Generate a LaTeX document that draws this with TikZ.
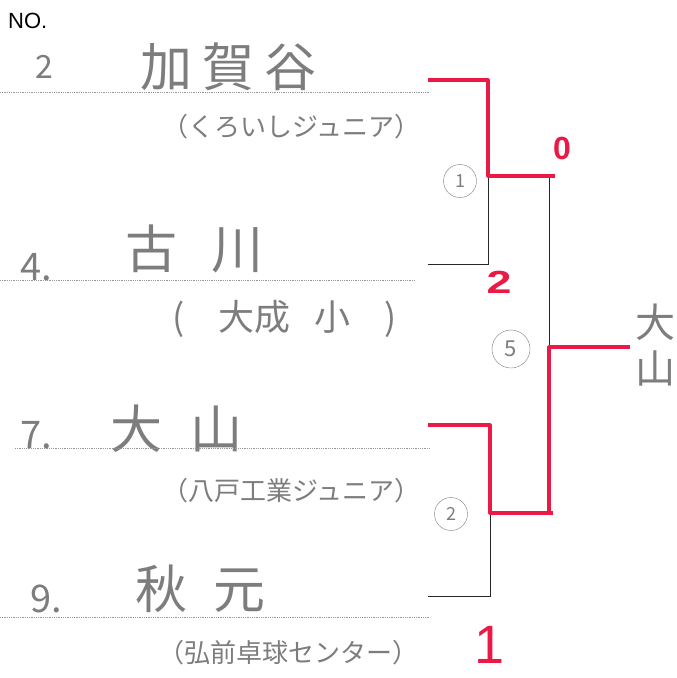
\documentclass[tikz,border=0pt]{standalone}
\usepackage{fontspec}
\newfontfamily\jp{Noto Sans CJK JP}
\newfontfamily\lat{Liberation Sans}
\definecolor{pencil}{RGB}{125,125,125}
\definecolor{marker}{RGB}{235,25,70}

\begin{document}
\begin{tikzpicture}[x=1pt, y=-1pt,
  player/.style={font=\jp\fontsize{52}{52}\selectfont, text=pencil, anchor=base west, inner sep=0},
  club/.style={font=\jp\fontsize{26}{26}\selectfont, text=pencil, anchor=base west, inner sep=0},
  seed/.style={font=\jp\fontsize{38}{38}\selectfont, text=pencil, anchor=base west, inner sep=0},
  rule/.style={pencil!80, densely dotted, line width=0.8},
  tree/.style={black!85, line width=0.9},
  win/.style={marker, line width=3.2, line join=round},
  score/.style={font=\lat\bfseries\fontsize{32}{32}\selectfont, text=marker, inner sep=0},
  game/.style={circle, draw=pencil, text=pencil, thin, inner sep=1pt, minimum size=#1, font=\jp\fontsize{18}{18}\selectfont}]
\useasboundingbox (0,0) rectangle (677,678);

\node[font=\lat\fontsize{22}{22}\selectfont, anchor=base west, inner sep=0] (no) at (8,28) {NO.};

% entries
\node[seed, font=\jp\fontsize{32}{32}\selectfont] (s2) at (35,78) {2};
\node[player] (p2) at (140,86) {加\hspace{10pt}賀\hspace{10pt}谷};
\node[club] (c2) at (162,136) {（くろいしジュニア）};
\draw[rule] (0,92) -- (430,92);

\node[seed] (s4) at (20,280) {4.};
\node[player] (p4) at (125,268) {古\hspace{34pt}川};
\node[club, font=\jp\fontsize{36}{36}\selectfont] (c4) at (172,330) {(\hspace{34pt}大成\hspace{24pt}小\hspace{34pt})};
\draw[rule] (0,280) -- (415,280);

\node[seed] (s7) at (20,448) {7.};
\node[player] (p7) at (110,448) {大\hspace{28pt}山};
\node[club] (c7) at (162,500) {（八戸工業ジュニア）};
\draw[rule] (15,448) -- (430,448);

\node[seed] (s9) at (30,612) {9.};
\node[player] (p9) at (135,608) {秋\hspace{26pt}元};
\node[club] (c9) at (158,662) {（弘前卓球センター）};
\draw[rule] (0,617) -- (430,617);

% bracket
\coordinate (e2) at (428,80);
\coordinate (e4) at (428,264);
\coordinate (e7) at (428,425);
\coordinate (e9) at (428,596);
\coordinate (m1) at (488,176);
\coordinate (m2) at (490,513);
\coordinate (f1) at (549,176);
\coordinate (f2) at (549,513);
\coordinate (m5) at (549,345);
\coordinate (top) at (610,345);
\coordinate (won) at (630,347);

\draw[tree] (e2) -| (m1) (e4) -| (m1) (m1) -- (f1) -- (f2);
\draw[tree] (e7) -| (m2) (e9) -| (m2) (m2) -- (f2);
\draw[tree] (m5) -- (top);

\draw[win] (e2) -| (m1) -- ([xshift=6pt]f1);
\draw[win] (e7) -| (m2) -- ([xshift=4pt]f2);
\draw[win] ([yshift=1.5pt]f2) |- (won);

\node[game=33pt] (g1) at (460,181) {1};
\node[game=33pt] (g2) at (451,514) {2};
\node[game=38pt, font=\jp\fontsize{22}{22}\selectfont] (g5) at (511,349) {5};

\node[score] (r2) at (562,148) {0};
\node[score, xscale=1.4] (r4) at (499,282) {2};
\node[score, font=\lat\fontsize{54}{54}\selectfont] (r9) at (490,645) {1};

\node[font=\jp\fontsize{40}{46}\selectfont, text=pencil, align=center, inner sep=0] (champ) at (655,345) {大\\山};
\end{tikzpicture}
\end{document}
